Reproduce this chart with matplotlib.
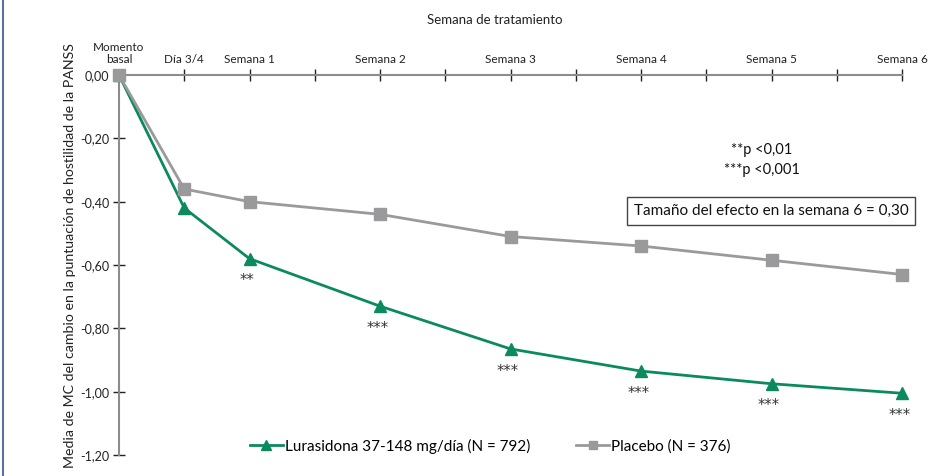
import matplotlib
matplotlib.use('Agg')
import matplotlib.pyplot as plt
from matplotlib.lines import Line2D

plt.rcParams['font.family'] = ['Lato', 'DejaVu Sans']

# Data: days since baseline and LS mean change in PANSS hostility score
days = [0, 3.5, 7, 14, 21, 28, 35, 42]
lurasidona = [0.00, -0.42, -0.58, -0.73, -0.865, -0.935, -0.975, -1.005]
placebo = [0.00, -0.36, -0.40, -0.44, -0.51, -0.54, -0.585, -0.63]
signif = ['', '', '**', '***', '***', '***', '***', '***']

tick_days = [0, 3.5, 7, 10.5, 14, 17.5, 21, 24.5, 28, 31.5, 35, 38.5, 42]
tick_labels = ['Momento\nbasal', 'Día 3/4', 'Semana 1', '', 'Semana 2', '', 'Semana 3', '',
               'Semana 4', '', 'Semana 5', '', 'Semana 6']
y_ticks = [0, -0.2, -0.4, -0.6, -0.8, -1.0, -1.2]

green = '#0b8a5f'
grey = '#9a9a9d'

fig = plt.figure(figsize=(9.44, 4.76), dpi=100)
ax = fig.add_axes([119 / 944, 21 / 476, 783 / 944, 380 / 476])

ax.plot(days, lurasidona, color=green, lw=2, marker='^', markersize=9, clip_on=False, zorder=3,
        label='Lurasidona 37-148 mg/día (N = 792)')
ax.plot(days, placebo, color=grey, lw=2, marker='s', markersize=8, clip_on=False, zorder=4,
        label='Placebo (N = 376)')

# significance stars under the lurasidone points
for d, v, s in zip(days, lurasidona, signif):
    if s:
        ax.annotate(s, (d, v), xytext=(-2, -16), textcoords='offset points',
                    ha='center', va='center', fontsize=10.5, color='#333333',
                    family='DejaVu Sans')

ax.set_xlim(0, 42)
ax.set_ylim(-1.2, 0)

for side in ['right', 'bottom']:
    ax.spines[side].set_visible(False)
for side in ['left', 'top']:
    ax.spines[side].set_color('#8c8c8c')
    ax.spines[side].set_linewidth(1.5)

ax.xaxis.tick_top()
ax.set_xticks(tick_days)
ax.set_xticklabels(tick_labels, fontsize=8.5, color='#222222', linespacing=1.1)
ax.set_yticks(y_ticks)
ax.set_yticklabels([f'{v:.2f}'.replace('.', ',') for v in y_ticks], fontsize=9, color='#222222')
ax.tick_params(axis='both', direction='inout', length=8, width=1, color='#222222')
ax.tick_params(axis='x', pad=3)
ax.tick_params(axis='y', pad=3)

fig.text(495 / 944, 1 - 20 / 476, 'Semana de tratamiento', ha='center', va='center',
         fontsize=9.5, color='#222222')
fig.text(70 / 944, 1 - 256 / 476, 'Media de MC del cambio en la puntuación de hostilidad de la PANSS',
         rotation=90, ha='center', va='center', fontsize=10.2, color='#222222')

fig.text(762 / 944, 1 - 150 / 476, '**p <0,01', ha='center', va='center', fontsize=10.5, color='#111111')
fig.text(762 / 944, 1 - 170 / 476, '***p <0,001', ha='center', va='center', fontsize=10.5, color='#111111')
fig.text(771 / 944, 1 - 211 / 476, 'Tamaño del efecto en la semana 6 = 0,30', ha='center', va='center',
         fontsize=11, color='#111111',
         bbox=dict(boxstyle='square,pad=0.45', fc='white', ec='#444444', lw=1))

ax.legend(loc='center', bbox_to_anchor=(490 / 944, 1 - 446 / 476), bbox_transform=fig.transFigure,
          ncol=2, frameon=False, fontsize=11, handlelength=2.2, handletextpad=0.1,
          columnspacing=3, markerscale=0.8)

fig.add_artist(Line2D([3 / 944, 3 / 944], [0, 1], color='#5b6ea8', lw=1.5))

fig.savefig('out.png', dpi=100)
